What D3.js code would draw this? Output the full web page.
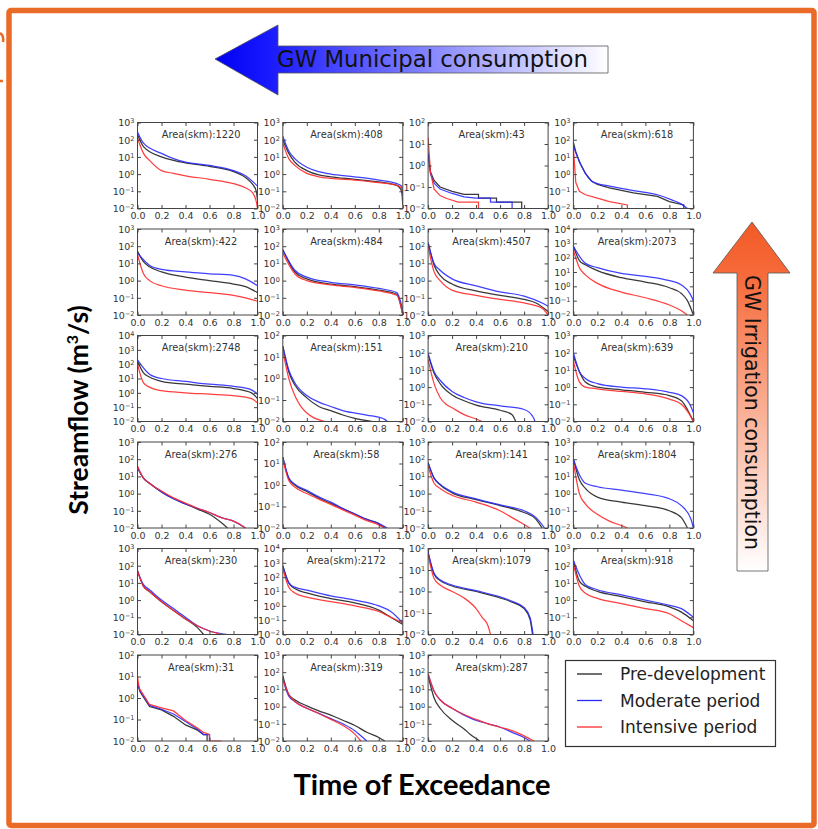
<!DOCTYPE html>
<html>
<head>
<meta charset="utf-8">
<script src="https://cdn.jsdelivr.net/npm/d3@7"></script>
<style>
  body { margin: 0; background: #fff; }
  svg { display: block; }
</style>
</head>
<body>
<svg id="fig" width="818" height="829"></svg>
<script>
// Gauge catchment areas (km²), one panel each, read row by row
const areas = [1220, 408, 43, 618,
               422, 484, 4507, 2073,
               2748, 151, 210, 639,
               276, 58, 141, 1804,
               230, 2172, 1079, 918,
               31, 319, 287];

// Upper limit of each panel's log axis, as a power of ten (lower limit is 10^-2)
const yTopExp = [3, 3, 2, 3,
                 3, 3, 3, 4,
                 4, 2, 3, 3,
                 3, 2, 3, 3,
                 3, 4, 2, 3,
                 2, 3, 3];

const xTickValues = [0, 0.2, 0.4, 0.6, 0.8, 1.0];
const seriesNames = ["Pre-development", "Moderate period", "Intensive period"];

// Flow duration curves: [time of exceedance, streamflow m³/s]
const preDevelopment = [
  [[0,200],[0.05,40],[0.2,10],[0.3,6.3],[0.4,4.5],[0.6,2.8],[0.8,1.4],[0.9,0.63],[0.96,0.25],[0.99,0.1],[1,0.03]],
  [[0,100],[0.05,16],[0.1,5],[0.2,1.6],[0.3,0.9],[0.4,0.7],[0.6,0.5],[0.8,0.35],[0.95,0.22],[0.99,0.1],[1,0.016]],
  [[0,3],[0.02,0.5],[0.05,0.2],[0.1,0.1],[0.2,0.063],[0.3,0.045],[0.42,0.045],[0.42,0.03],[0.57,0.03],[0.57,0.02],[0.78,0.02],[0.78,0.01],[0.8,0.01]],
  [[0,70],[0.02,20],[0.05,5],[0.1,1.1],[0.15,0.4],[0.2,0.25],[0.3,0.16],[0.5,0.08],[0.7,0.05],[0.8,0.025],[0.92,0.016],[0.92,0.01]],
  [[0,50],[0.05,12.6],[0.1,6.3],[0.2,3.2],[0.4,1.6],[0.6,1],[0.8,0.63],[0.9,0.45],[1,0.2]],
  [[0,63],[0.1,3.2],[0.2,1.26],[0.4,0.63],[0.6,0.45],[0.8,0.28],[0.95,0.16],[1,0.01]],
  [[0,160],[0.05,7.9],[0.1,2],[0.2,0.63],[0.4,0.25],[0.6,0.14],[0.8,0.08],[0.9,0.05],[1,0.016]],
  [[0,630],[0.05,63],[0.1,32],[0.2,12.6],[0.4,4],[0.6,2],[0.8,0.8],[0.9,0.32],[0.95,0.1],[1,0.01]],
  [[0,160],[0.05,25],[0.1,12.6],[0.2,6.3],[0.4,4],[0.6,2.8],[0.8,2],[0.95,1],[1,0.4]],
  [[0,32],[0.05,2],[0.1,0.5],[0.2,0.126],[0.3,0.05],[0.4,0.032],[0.5,0.02],[0.6,0.014],[0.75,0.01]],
  [[0,80],[0.05,6.3],[0.1,1.6],[0.2,0.35],[0.3,0.16],[0.4,0.09],[0.6,0.045],[0.7,0.025],[0.73,0.01]],
  [[0,63],[0.1,2],[0.2,1],[0.4,0.7],[0.6,0.5],[0.8,0.32],[0.9,0.16],[0.95,0.05],[1,0.01]],
  [[0,32],[0.05,7.9],[0.1,4],[0.2,1.26],[0.3,0.5],[0.4,0.25],[0.5,0.126],[0.6,0.063],[0.7,0.02],[0.75,0.01]],
  [[0,20],[0.05,2],[0.1,1],[0.2,0.5],[0.3,0.25],[0.4,0.14],[0.5,0.08],[0.6,0.045],[0.7,0.025],[0.8,0.016],[0.85,0.01]],
  [[0,63],[0.05,7.9],[0.1,3.2],[0.2,1.1],[0.4,0.45],[0.6,0.2],[0.8,0.08],[0.9,0.032],[0.95,0.01]],
  [[0,100],[0.05,6.3],[0.1,2],[0.2,0.63],[0.4,0.32],[0.6,0.2],[0.8,0.1],[0.9,0.04],[0.95,0.01]],
  [[0,50],[0.05,6.3],[0.1,3.2],[0.2,0.8],[0.3,0.25],[0.4,0.08],[0.5,0.025],[0.55,0.01]],
  [[0,630],[0.05,40],[0.1,16],[0.2,7.9],[0.4,3.2],[0.6,1.6],[0.8,0.5],[0.9,0.16],[1,0.05]],
  [[0,63],[0.05,6.3],[0.1,3.2],[0.2,1.8],[0.4,1],[0.6,0.5],[0.7,0.32],[0.8,0.16],[0.85,0.05],[0.87,0.01]],
  [[0,200],[0.05,12.6],[0.1,6.3],[0.2,3.2],[0.4,1.6],[0.6,0.8],[0.8,0.4],[0.9,0.2],[1,0.063]],
  [[0,5],[0.01,3.2],[0.02,2],[0.1,0.4],[0.2,0.28],[0.3,0.14],[0.4,0.056],[0.5,0.032],[0.55,0.02],[0.58,0.02],[0.58,0.01]],
  [[0,63],[0.05,5],[0.1,2.5],[0.2,1.1],[0.3,0.56],[0.4,0.32],[0.5,0.16],[0.6,0.08],[0.7,0.032],[0.8,0.016],[0.85,0.01]],
  [[0,63],[0.05,3.2],[0.1,0.8],[0.2,0.16],[0.3,0.05],[0.35,0.025],[0.4,0.014],[0.43,0.01]]
];

const moderatePeriod = [
  [[0,280],[0.05,63],[0.2,16],[0.3,7.9],[0.4,5],[0.6,3.2],[0.8,1.6],[0.9,0.8],[0.97,0.32],[1,0.2]],
  [[0,160],[0.05,22],[0.1,7.9],[0.2,2.5],[0.3,1.4],[0.4,1],[0.6,0.7],[0.8,0.45],[0.95,0.28],[0.99,0.2],[1,0.06]],
  [[0,4],[0.02,0.4],[0.05,0.15],[0.1,0.08],[0.2,0.05],[0.3,0.035],[0.4,0.03],[0.52,0.03],[0.52,0.02],[0.7,0.02],[0.7,0.01],[0.9,0.01]],
  [[0,40],[0.05,5.6],[0.1,1.1],[0.15,0.4],[0.2,0.28],[0.3,0.2],[0.5,0.11],[0.7,0.063],[0.82,0.032],[0.9,0.018],[0.95,0.01]],
  [[0,40],[0.1,7.9],[0.2,4.5],[0.4,3.2],[0.6,2.5],[0.8,2],[0.9,1.26],[1,0.5]],
  [[0,63],[0.1,4],[0.2,1.6],[0.4,0.8],[0.6,0.56],[0.8,0.35],[0.95,0.2],[1,0.02]],
  [[0,160],[0.05,10],[0.1,4],[0.2,1.26],[0.4,0.5],[0.6,0.22],[0.8,0.126],[0.95,0.05],[1,0.032]],
  [[0,630],[0.1,40],[0.2,20],[0.4,7.9],[0.6,5],[0.8,2.5],[0.9,1.26],[0.97,0.32],[1,0.1]],
  [[0,200],[0.1,20],[0.2,10],[0.4,6.3],[0.6,4],[0.8,2.8],[0.95,1.6],[1,0.8]],
  [[0,32],[0.05,2.5],[0.1,0.63],[0.2,0.16],[0.3,0.08],[0.4,0.05],[0.5,0.032],[0.7,0.02],[0.85,0.0126],[0.87,0.01]],
  [[0,90],[0.05,7.9],[0.1,2.5],[0.2,0.56],[0.3,0.25],[0.4,0.14],[0.6,0.08],[0.8,0.05],[0.88,0.016],[0.89,0.01]],
  [[0,100],[0.05,7.9],[0.1,3.2],[0.2,1.6],[0.4,1],[0.6,0.8],[0.8,0.5],[0.9,0.32],[0.97,0.1],[1,0.032]],
  [[0,32],[0.05,7.9],[0.1,4],[0.2,1.26],[0.3,0.5],[0.4,0.25],[0.5,0.14],[0.6,0.08],[0.7,0.04],[0.8,0.025],[0.85,0.016],[0.9,0.01]],
  [[0,20],[0.05,2.2],[0.1,1.1],[0.2,0.56],[0.3,0.28],[0.4,0.16],[0.5,0.08],[0.6,0.045],[0.7,0.025],[0.8,0.016],[0.87,0.01]],
  [[0,63],[0.05,7.9],[0.1,3.5],[0.2,1.26],[0.4,0.5],[0.6,0.22],[0.8,0.1],[0.9,0.04],[0.97,0.01]],
  [[0,100],[0.05,12.6],[0.1,4],[0.2,2.5],[0.4,1.6],[0.6,1],[0.8,0.5],[0.9,0.2],[0.98,0.032],[1,0.01]],
  [[0,50],[0.05,7.9],[0.1,4],[0.2,1],[0.3,0.32],[0.4,0.1],[0.5,0.032],[0.6,0.016],[0.75,0.01]],
  [[0,630],[0.05,40],[0.1,20],[0.2,12.6],[0.4,5],[0.6,2.5],[0.8,1],[0.9,0.4],[1,0.063]],
  [[0,70],[0.05,7],[0.1,3.5],[0.2,2],[0.4,1.1],[0.6,0.56],[0.7,0.35],[0.8,0.18],[0.85,0.06],[0.875,0.01]],
  [[0,200],[0.1,7.9],[0.2,4],[0.4,2],[0.6,1],[0.8,0.5],[0.9,0.32],[1,0.1]],
  [[0,5],[0.01,3.2],[0.02,2.2],[0.1,0.45],[0.2,0.3],[0.3,0.18],[0.4,0.08],[0.5,0.035],[0.55,0.02],[0.6,0.02],[0.6,0.01]],
  [[0,40],[0.05,4],[0.1,2],[0.2,0.8],[0.3,0.4],[0.4,0.2],[0.5,0.1],[0.6,0.04],[0.65,0.02],[0.7,0.01]],
  [[0,80],[0.05,7.9],[0.1,2.5],[0.2,0.8],[0.3,0.32],[0.4,0.16],[0.5,0.1],[0.6,0.063],[0.7,0.032],[0.8,0.016],[0.85,0.01]]
];

const intensivePeriod = [
  [[0,126],[0.05,16],[0.1,6.3],[0.2,1.6],[0.3,1.1],[0.4,0.8],[0.6,0.5],[0.8,0.28],[0.9,0.16],[0.96,0.08],[0.99,0.025],[1,0.01]],
  [[0,63],[0.05,7.9],[0.1,3.2],[0.2,1.1],[0.3,0.7],[0.4,0.56],[0.6,0.45],[0.8,0.32],[0.95,0.22],[0.99,0.16],[1,0.08]],
  [[0,20],[0.02,0.5],[0.05,0.08],[0.1,0.04],[0.15,0.03],[0.25,0.02],[0.42,0.02],[0.42,0.01],[0.68,0.01]],
  [[0,32],[0.01,3.2],[0.02,0.32],[0.05,0.1],[0.1,0.063],[0.2,0.04],[0.3,0.025],[0.45,0.016],[0.45,0.01],[0.73,0.01]],
  [[0,32],[0.05,2.5],[0.1,1],[0.2,0.5],[0.4,0.28],[0.6,0.2],[0.8,0.14],[0.9,0.1],[1,0.063]],
  [[0,40],[0.1,2.5],[0.2,1],[0.4,0.56],[0.6,0.4],[0.8,0.25],[0.95,0.14],[1,0.01]],
  [[0,100],[0.05,3.2],[0.1,1],[0.2,0.28],[0.4,0.14],[0.6,0.08],[0.8,0.05],[0.95,0.025],[1,0.01]],
  [[0,320],[0.05,20],[0.1,6.3],[0.2,1.6],[0.4,0.4],[0.6,0.16],[0.8,0.05],[0.9,0.02],[0.95,0.01]],
  [[0,100],[0.05,5],[0.1,2.5],[0.2,1.4],[0.4,1],[0.6,0.8],[0.8,0.63],[0.95,0.4],[1,0.2]],
  [[0,20],[0.05,1],[0.1,0.16],[0.15,0.05],[0.2,0.025],[0.25,0.016],[0.35,0.01]],
  [[0,40],[0.05,1.6],[0.1,0.25],[0.15,0.1],[0.2,0.063],[0.3,0.025],[0.4,0.014],[0.45,0.01]],
  [[0,32],[0.05,2],[0.1,1],[0.2,0.8],[0.4,0.56],[0.6,0.4],[0.8,0.2],[0.9,0.1],[0.96,0.032],[1,0.01]],
  [[0,40],[0.05,7.9],[0.1,4],[0.2,1.4],[0.3,0.56],[0.4,0.28],[0.5,0.14],[0.6,0.08],[0.7,0.04],[0.8,0.025],[0.87,0.014],[0.9,0.01]],
  [[0,16],[0.05,1.6],[0.1,0.8],[0.2,0.4],[0.3,0.22],[0.4,0.126],[0.5,0.07],[0.6,0.04],[0.7,0.022],[0.8,0.014],[0.85,0.01]],
  [[0,40],[0.05,4],[0.1,2],[0.2,0.8],[0.4,0.32],[0.6,0.1],[0.7,0.04],[0.8,0.016],[0.85,0.01]],
  [[0,63],[0.05,1],[0.1,0.25],[0.2,0.063],[0.3,0.025],[0.4,0.014],[0.45,0.01]],
  [[0,50],[0.05,6.3],[0.1,3.2],[0.2,0.8],[0.3,0.25],[0.4,0.08],[0.5,0.032],[0.6,0.016],[0.7,0.01]],
  [[0,400],[0.05,20],[0.1,7.9],[0.2,4],[0.4,2],[0.6,1],[0.8,0.4],[0.9,0.16],[1,0.063]],
  [[0,50],[0.05,4],[0.1,2],[0.2,1],[0.3,0.5],[0.4,0.16],[0.45,0.063],[0.5,0.025],[0.52,0.01]],
  [[0,126],[0.05,6.3],[0.1,2.5],[0.2,1.26],[0.4,0.63],[0.6,0.32],[0.8,0.16],[0.9,0.063],[1,0.025]],
  [[0,10],[0.01,4],[0.02,2.5],[0.1,0.5],[0.2,0.35],[0.3,0.25],[0.4,0.09],[0.5,0.04],[0.55,0.025],[0.6,0.02],[0.6,0.01],[0.7,0.01]],
  [[0,40],[0.05,5],[0.1,2],[0.2,0.8],[0.3,0.4],[0.4,0.18],[0.5,0.08],[0.6,0.025],[0.65,0.01]],
  [[0,80],[0.05,7.9],[0.1,2.5],[0.2,0.8],[0.3,0.35],[0.4,0.18],[0.5,0.1],[0.6,0.063],[0.7,0.04],[0.8,0.02],[0.88,0.01]]
];

const allSeries = [preDevelopment, moderatePeriod, intensivePeriod];
const seriesColors = ["#222222", "#2a2aff", "#ff2a2a"];

const svg = d3.select("#fig");
const defs = svg.append("defs");

// ---- outer frame ----
svg.append("rect")
  .attr("x", 9).attr("y", 10.5).attr("width", 805).attr("height", 815)
  .attr("rx", 2)
  .attr("fill", "none").attr("stroke", "#ea6a27").attr("stroke-width", 5.5);
svg.append("path")
  .attr("d", "M0,33 Q4,35 3,42")
  .attr("fill", "none").attr("stroke", "#ea6a27").attr("stroke-width", 2.5);
svg.append("path")
  .attr("d", "M0,81 L3,81")
  .attr("fill", "none").attr("stroke", "#ea6a27").attr("stroke-width", 2.5);

// ---- panels ----
const panelW = 120, panelH = 86;
const tickFont = "DejaVu Sans, sans-serif";

areas.forEach((area, i) => {
  const r = Math.floor(i / 4), c = i % 4;
  const left = 137.5 + c * 145.3;
  const top = 122.5 + r * 106.5;

  const x = d3.scaleLinear().domain([0, 1]).range([left, left + panelW]);
  const y = d3.scaleLog().domain([1e-2, Math.pow(10, yTopExp[i])]).range([top + panelH, top]);
  const decades = d3.range(-2, yTopExp[i] + 1).map(e => Math.pow(10, e));

  const g = svg.append("g").attr("class", "panel");
  const clipId = "clip" + i;
  defs.append("clipPath").attr("id", clipId)
    .append("rect").attr("x", left).attr("y", top - 1).attr("width", panelW).attr("height", panelH + 1.5);

  const plot = g.append("g").attr("clip-path", `url(#${clipId})`);
  allSeries.forEach((series, k) => {
    const pts = series[i];
    const hasStep = pts.some((p, j) => j > 0 && p[0] === pts[j - 1][0]);
    const line = d3.line()
      .x(d => x(d[0]))
      .y(d => y(d[1]))
      .curve(hasStep ? d3.curveLinear : d3.curveMonotoneX);
    plot.append("path")
      .datum(pts)
      .attr("d", line)
      .attr("fill", "none")
      .attr("stroke", seriesColors[k])
      .attr("stroke-width", 1.25)
      .attr("stroke-opacity", 0.9);
  });

  // axes with inward ticks on all four sides
  const styleAxis = sel => {
    sel.select(".domain").remove();
    sel.selectAll(".tick line").attr("stroke", "#444");
    sel.attr("font-family", tickFont).attr("font-size", 9.5);
    sel.selectAll(".tick text").attr("fill", "#333");
  };

  g.append("g").attr("transform", `translate(0,${top + panelH})`)
    .call(d3.axisBottom(x).tickValues(xTickValues).tickSize(-3.5).tickPadding(4).tickFormat(d3.format(".1f")))
    .call(styleAxis);
  g.append("g").attr("transform", `translate(0,${top})`)
    .call(d3.axisTop(x).tickValues(xTickValues).tickSize(-3.5).tickFormat(""))
    .call(styleAxis);

  const yl = g.append("g").attr("transform", `translate(${left},0)`)
    .call(d3.axisLeft(y).tickValues(decades).tickSize(-3.5).tickPadding(3).tickFormat(""))
    .call(styleAxis);
  yl.selectAll(".tick text").each(function(d) {
    const t = d3.select(this);
    t.text(null).attr("dy", "0.35em");
    t.append("tspan").text("10");
    t.append("tspan").attr("dy", "-0.45em").attr("font-size", 6.5).text(String(Math.round(Math.log10(d))).replace("-", "\u2212"));
  });
  g.append("g").attr("transform", `translate(${left + panelW},0)`)
    .call(d3.axisRight(y).tickValues(decades).tickSize(-3.5).tickFormat(""))
    .call(styleAxis);

  g.append("rect")
    .attr("x", left).attr("y", top).attr("width", panelW).attr("height", panelH)
    .attr("fill", "none").attr("stroke", "#444").attr("stroke-width", 1);

  g.append("text")
    .attr("x", left + panelW * 0.53).attr("y", top + 15.5)
    .attr("text-anchor", "middle")
    .attr("font-family", tickFont).attr("font-size", 9.8).attr("fill", "#333")
    .text("Area(skm):" + area);
});

// ---- legend ----
const legend = svg.append("g");
legend.append("rect")
  .attr("x", 565.5).attr("y", 660.5).attr("width", 210).attr("height", 86)
  .attr("fill", "#fff").attr("stroke", "#333").attr("stroke-width", 1.2);
seriesNames.forEach((name, k) => {
  const ly = 674 + k * 26.5;
  legend.append("line")
    .attr("x1", 577).attr("x2", 602).attr("y1", ly).attr("y2", ly)
    .attr("stroke", seriesColors[k]).attr("stroke-width", 1.3);
  legend.append("text")
    .attr("x", 620).attr("y", ly + 6)
    .attr("font-family", tickFont).attr("font-size", 17).attr("fill", "#222")
    .text(name);
});

// ---- axis titles ----
svg.append("text")
  .attr("transform", "translate(88,410) rotate(-90)")
  .attr("text-anchor", "middle")
  .attr("font-family", "Lato, 'Open Sans', sans-serif").attr("font-weight", "bold")
  .attr("font-size", 26.5).attr("fill", "#000")
  .call(t => {
    t.append("tspan").text("Streamflow (m");
    t.append("tspan").attr("dy", -10).attr("font-size", 16).text("3");
    t.append("tspan").attr("dy", 10).text("/s)");
  });

svg.append("text")
  .attr("x", 422).attr("y", 795)
  .attr("text-anchor", "middle")
  .attr("font-family", "Lato, 'Open Sans', sans-serif").attr("font-weight", "bold")
  .attr("font-size", 29).attr("fill", "#000")
  .text("Time of Exceedance");

// ---- consumption arrows ----
const gBlue = defs.append("linearGradient").attr("id", "gradBlue")
  .attr("gradientUnits", "userSpaceOnUse").attr("x1", 215).attr("x2", 608).attr("y1", 0).attr("y2", 0);
gBlue.append("stop").attr("offset", 0).attr("stop-color", "#0000f2");
gBlue.append("stop").attr("offset", 0.15).attr("stop-color", "#1c1cff");
gBlue.append("stop").attr("offset", 1).attr("stop-color", "#ffffff");

svg.append("path")
  .attr("d", "M215,59 L278,25 L278,46 L608,46 L608,73 L278,73 L278,95 Z")
  .attr("fill", "url(#gradBlue)").attr("stroke", "#555").attr("stroke-width", 0.8);
svg.append("text")
  .attr("x", 277).attr("y", 67)
  .attr("font-family", tickFont).attr("font-size", 22.8).attr("fill", "#111")
  .text("GW Municipal consumption");

const gOrange = defs.append("linearGradient").attr("id", "gradOrange")
  .attr("gradientUnits", "userSpaceOnUse").attr("x1", 0).attr("x2", 0).attr("y1", 222).attr("y2", 571);
gOrange.append("stop").attr("offset", 0).attr("stop-color", "#f25a26");
gOrange.append("stop").attr("offset", 0.15).attr("stop-color", "#f66a3a");
gOrange.append("stop").attr("offset", 1).attr("stop-color", "#ffffff");

svg.append("path")
  .attr("d", "M752,222 L790,273 L768,273 L768,571 L737,571 L737,273 L713,273 Z")
  .attr("fill", "url(#gradOrange)").attr("stroke", "#555").attr("stroke-width", 0.8);
svg.append("text")
  .attr("transform", "translate(745,275) rotate(90)")
  .attr("font-family", tickFont).attr("font-size", 20.5).attr("fill", "#111")
  .text("GW Irrigation consumption");
</script>
</body>
</html>
